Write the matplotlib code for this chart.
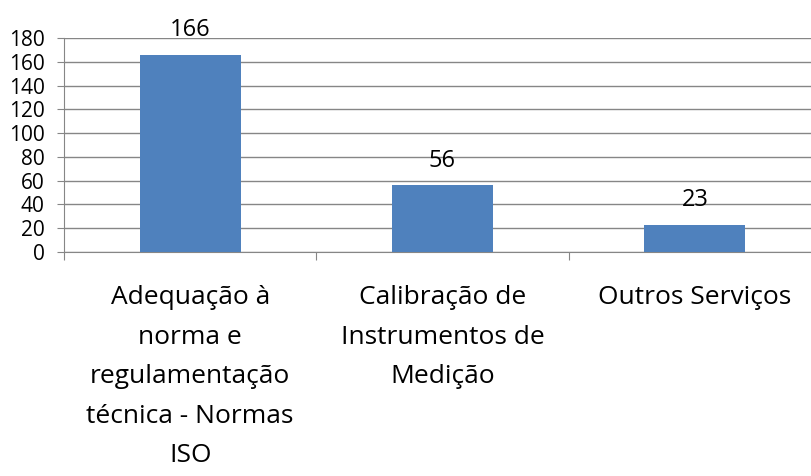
import matplotlib
matplotlib.use("Agg")
from matplotlib import pyplot as plt
import numpy as np

plt.rcParams['font.family'] = ['Open Sans', 'DejaVu Sans']

categorias = ["Adequação à\nnorma e\nregulamentação\ntécnica - Normas\nISO",
              "Calibração de\nInstrumentos de\nMedição",
              "Outros Serviços"]
valores = [166, 56, 23]
yticks = [0, 20, 40, 60, 80, 100, 120, 140, 160, 180]

fig = plt.figure(figsize=(8.12, 4.76), dpi=100)
ax = fig.add_axes([64/812, 1-252/476, (821-64)/812, (252-38)/476])

x = np.arange(len(valores))
ax.bar(x, valores, width=0.4, color='#4F81BD', zorder=3)
for xi, v in zip(x, valores):
    ax.annotate(str(v), (xi, v), xytext=(0, 9), textcoords='offset points',
                ha='center', va='bottom', fontsize=17)

ax.set_xlim(-0.5, len(valores) - 0.5)
ax.set_ylim(0, 180)
ax.set_yticks(yticks)
ax.tick_params(axis='y', labelsize=15, length=5, color='#868686', pad=9)
ax.yaxis.grid(True, color='#868686', linewidth=1, zorder=0)

ax.set_xticks(np.arange(len(valores) + 1) - 0.5)
ax.set_xticklabels([])
ax.tick_params(axis='x', length=6, color='#868686')
for xi, c in zip(x, categorias):
    ax.text(xi, -28, c, ha='center', va='top', fontsize=19, linespacing=1.76)

for s in ['top', 'right']:
    ax.spines[s].set_visible(False)
ax.spines['left'].set_color('#868686')
ax.spines['bottom'].set_color('#868686')

plt.savefig("out.png", dpi=100)
